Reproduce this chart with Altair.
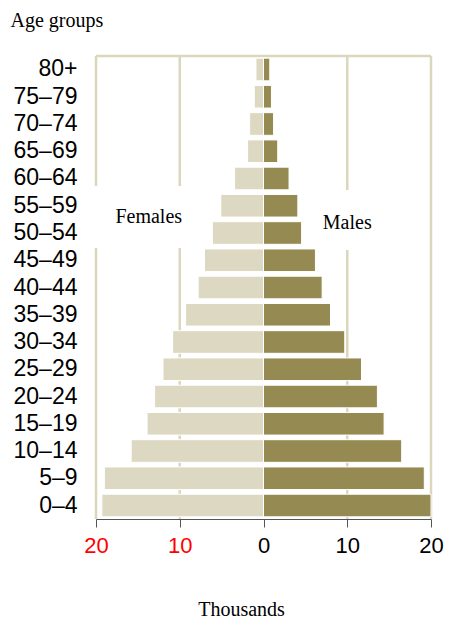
import altair as alt
import pandas as pd

ages = ["0–4", "5–9", "10–14", "15–19", "20–24", "25–29", "30–34", "35–39",
        "40–44", "45–49", "50–54", "55–59", "60–64", "65–69", "70–74", "75–79", "80+"]
females = [19.3, 19.0, 15.8, 13.9, 13.0, 12.0, 10.85, 9.3, 7.8, 7.05, 6.1, 5.1,
           3.45, 1.9, 1.65, 1.1, 0.9]
males = [20.0, 19.2, 16.5, 14.4, 13.6, 11.7, 9.7, 8.0, 7.0, 6.2, 4.55, 4.1,
         3.05, 1.7, 1.2, 0.95, 0.75]
x_ticks = [-20, -10, 0, 10, 20]
grid_vals = [-10, 10]

rows = []
for a, f, m in zip(ages, females, males):
    rows.append({"age": a, "sex": "Females", "start": -f, "end": 0})
    rows.append({"age": a, "sex": "Males", "start": 0, "end": m})
df = pd.DataFrame(rows)

order = ages[::-1]
FRAME = "#dcd6bc"
W, H = 335, 463

xscale = alt.Scale(domain=[-20, 20], nice=False, zero=False)

x_axis = alt.Axis(
    values=x_ticks, labelExpr="abs(datum.value)", grid=False, labelFlush=False,
    labelOverlap=False,
    labelColor={"condition": {"test": "datum.value < 0", "value": "#ff0000"}, "value": "#000000"},
    labelFont="Liberation Sans", labelFontSize=22, labelPadding=8,
    tickSize=8, tickColor="#555555", domainColor="#555555", tickWidth=1, domainWidth=1,
    title="Thousands", titleFont="Liberation Serif", titleFontSize=20,
    titleFontWeight="normal", titleColor="#000000", titleX=145, titleY=90,
    titleBaseline="middle", titleAlign="center",
)
y_axis = alt.Axis(
    ticks=False, domain=False, grid=False, labelFont="Liberation Sans",
    labelFontSize=23, labelColor="#000000", labelPadding=19,
    title="Age groups", titleAngle=0, titleFont="Liberation Serif",
    titleFontSize=20, titleFontWeight="normal", titleColor="#000000",
    titleX=-86, titleY=-36, titleAlign="left", titleBaseline="middle",
)

grid_df = pd.DataFrame({"x": grid_vals})
grid = alt.Chart(grid_df).mark_rule(color=FRAME, strokeWidth=2.5).encode(
    x=alt.X("x:Q", scale=xscale)
)
side_df = pd.DataFrame({"x": [-20, 20]})
sides = alt.Chart(side_df).mark_rule(color=FRAME, strokeWidth=2.5).encode(
    x=alt.X("x:Q", scale=xscale)
)
top = alt.Chart(pd.DataFrame({"x": [-20], "x2": [20]})).mark_rule(
    color=FRAME, strokeWidth=2.5).encode(
    x=alt.X("x:Q", scale=xscale), x2="x2:Q", y=alt.value(0)
)

box_df = pd.DataFrame({
    "x": [-20.4, 6.0], "x2": [-8.0, 15.9],
})
box_left = alt.Chart(box_df.iloc[[0]]).mark_rect(color="white").encode(
    x=alt.X("x:Q", scale=xscale), x2="x2:Q", y=alt.value(130), y2=alt.value(192)
)
box_right = alt.Chart(box_df.iloc[[1]]).mark_rect(color="white").encode(
    x=alt.X("x:Q", scale=xscale), x2="x2:Q", y=alt.value(134), y2=alt.value(194)
)

bars = alt.Chart(df).mark_bar(stroke="white", strokeWidth=1).encode(
    y=alt.Y("age:N", sort=order, axis=y_axis,
            scale=alt.Scale(paddingInner=0.17, paddingOuter=0.08)),
    x=alt.X("start:Q", scale=xscale, axis=x_axis),
    x2="end:Q",
    color=alt.Color("sex:N", scale=alt.Scale(domain=["Females", "Males"],
                                             range=["#ddd8c1", "#958a52"]),
                    legend=None),
)

lab_df = pd.DataFrame({"t": ["Females", "Males"], "x": [-13.7, 10.0], "y": [161, 167]})
labels = alt.Chart(lab_df).mark_text(font="Liberation Serif", fontSize=20,
                                     color="#000000", baseline="middle").encode(
    x=alt.X("x:Q", scale=xscale), y=alt.Y("y:Q", scale=None), text="t:N"
)

chart = alt.layer(grid, sides, top, box_left, box_right, bars, labels).properties(
    width=W, height=H,
    autosize=alt.AutoSizeParams(type="none"),
    padding={"left": 88, "top": 48, "right": 13, "bottom": 100},
).configure_view(stroke=None)

chart.save("out.html", embed_options={"renderer": "svg", "actions": False})
